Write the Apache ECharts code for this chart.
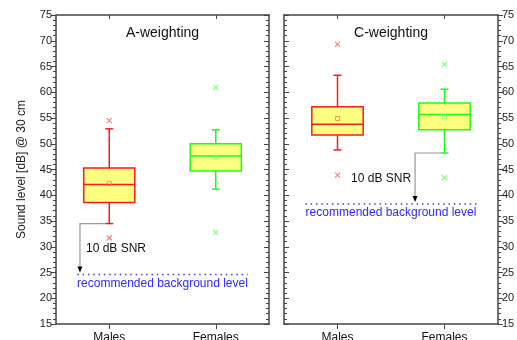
<!DOCTYPE html>
<html>
<head>
<meta charset="utf-8">
<script src="https://cdn.jsdelivr.net/npm/echarts@6/dist/echarts.min.js"></script>
<style>
html, body { margin: 0; padding: 0; background: #fff; }
#chart { width: 517px; height: 340px; }
</style>
</head>
<body>
<div id="chart"></div>
<script>
const groups = ['Males', 'Females'];
const panelTitles = ['A-weighting', 'C-weighting'];
// [min, Q1, median, Q3, max] per group
const boxA = [[34.5, 38.6, 42.1, 45.3, 52.9], [41.2, 44.7, 47.6, 50.0, 52.7]];
const boxC = [[48.8, 51.7, 53.8, 57.2, 63.3], [48.2, 52.7, 55.7, 57.9, 60.6]];
const meanA = [42.3, 47.4];
const meanC = [54.9, 55.2];
const outliersA = [[54.5, 31.7], [60.9, 32.8]];
const outliersC = [[69.3, 43.9], [65.4, 43.4]];
// SNR bracket: start group, start level (whisker min), background level
const snrA = [0, 34.5, 24.6];
const snrC = [1, 48.2, 38.3];
const yMin = 15, yMax = 75, yStep = 5;

const strokes = ['#ff1a1a', '#1aff1a'];
const outlierColors = ['#ff6060', '#60ff60'];
const meanColors = ['#ff8040', '#80ff80'];
const font = 'Liberation Sans, Arial, sans-serif';

let chart = echarts.init(document.getElementById('chart'));

function renderBox(params, api) {
  let i = api.value(0);
  let x = api.coord([i, api.value(3)])[0];
  let band = api.size([1, 0])[0];
  let hw = band * 0.24, cap = 4;
  let y = v => api.coord([i, v])[1];
  let col = strokes[i];
  let ln = (x1, y1, x2, y2) => ({
    type: 'line', shape: { x1, y1, x2, y2 },
    style: { stroke: col, lineWidth: 1.5 }
  });
  return {
    type: 'group',
    children: [
      ln(x, y(api.value(4)), x, y(api.value(5))),
      ln(x, y(api.value(2)), x, y(api.value(1))),
      ln(x - cap, y(api.value(5)), x + cap, y(api.value(5))),
      ln(x - cap, y(api.value(1)), x + cap, y(api.value(1))),
      {
        type: 'rect',
        shape: { x: x - hw, y: y(api.value(4)), width: hw * 2, height: y(api.value(2)) - y(api.value(4)) },
        style: { fill: '#ffff80', stroke: col, lineWidth: 1.5 }
      },
      ln(x - hw, y(api.value(3)), x + hw, y(api.value(3)))
    ]
  };
}

function makeAnnotation(textAlign) {
  return function (params, api) {
    let g = api.value(0);
    let band = api.size([1, 0])[0];
    let cx = api.coord([g, api.value(1)])[0];
    let yStart = api.coord([g, api.value(1)])[1];
    let yBg = api.coord([g, api.value(2)])[1];
    let yMid = api.coord([g, (api.value(1) + api.value(2)) / 2])[1];
    let vx = cx - band * 0.275;
    let tip = yBg - 2;
    let x0 = api.coord([0, yMin])[0] - band * 0.3;
    let x1 = api.coord([1, yMin])[0] + band * 0.3;
    return {
      type: 'group',
      children: [
        { type: 'polyline', shape: { points: [[cx - 4, yStart], [vx, yStart], [vx, tip - 5]] },
          style: { stroke: '#999', lineWidth: 1.2, fill: null } },
        { type: 'polygon', shape: { points: [[vx - 2.5, tip - 6], [vx + 2.5, tip - 6], [vx, tip]] },
          style: { fill: '#000' } },
        { type: 'text', x: textAlign === 'left' ? vx + 6 : vx - 4, y: yMid,
          style: { text: '10 dB SNR', font: '12px ' + font, fill: '#111', align: textAlign, verticalAlign: 'middle' } },
        { type: 'line', shape: { x1: x0, y1: yBg, x2: x1, y2: yBg },
          style: { stroke: '#3a3aff', lineWidth: 1.5, lineDash: [1.5, 3.8] } },
        { type: 'text', x: (x0 + x1) / 2, y: yBg + 9,
          style: { text: 'recommended background level', font: '12px ' + font, fill: '#2a2aff', align: 'center', verticalAlign: 'middle' } }
      ]
    };
  };
}

const axisLine = { show: true, lineStyle: { color: '#444', width: 1.5 } };

function xAxes(gridIndex) {
  return [
    {
      type: 'category', gridIndex, data: groups, position: 'bottom',
      axisLine, axisTick: { show: true, alignWithLabel: true, length: 5, lineStyle: { color: '#444' } },
      axisLabel: { color: '#111', fontSize: 12, fontFamily: font, margin: 8 },
      splitLine: { show: false }
    },
    {
      type: 'category', gridIndex, data: groups, position: 'top',
      axisLine, axisTick: { show: true, inside: true, alignWithLabel: true, length: 4, lineStyle: { color: '#444' } },
      axisLabel: { show: false }, splitLine: { show: false }
    }
  ];
}

function yAxis(gridIndex, position, labels, inside) {
  let a = {
    type: 'value', gridIndex, position, min: yMin, max: yMax, interval: yStep,
    axisLine,
    axisTick: { show: true, inside, length: 5, lineStyle: { color: '#444' } },
    minorTick: { show: true, splitNumber: 5, length: 3, lineStyle: { color: '#444' } },
    axisLabel: { show: labels, color: '#222', fontSize: 11, fontFamily: font, margin: 4 },
    splitLine: { show: false }, minorSplitLine: { show: false }
  };
  if (gridIndex === 0 && position === 'left') {
    a.name = 'Sound level [dB] @ 30 cm';
    a.nameLocation = 'middle';
    a.nameGap = 28;
    a.nameTextStyle = { color: '#222', fontSize: 12, fontFamily: font };
  }
  return a;
}

function panelSeries(xi, yi, box, mean, outliers, snr, align) {
  let boxData = box.map((b, i) => [i].concat(b));
  let outData = [];
  outliers.forEach((vals, i) => vals.forEach(v => outData.push([i, v])));
  return [
    { type: 'custom', xAxisIndex: xi, yAxisIndex: yi, renderItem: renderBox, data: boxData, z: 2 },
    {
      type: 'scatter', xAxisIndex: xi, yAxisIndex: yi, symbol: 'path://M0,0L10,10M10,0L0,10', symbolSize: 5,
      data: outData.map(d => ({ value: d, itemStyle: { color: 'transparent', borderColor: outlierColors[d[0]], borderWidth: 1.2 } })),
      z: 3
    },
    {
      type: 'scatter', xAxisIndex: xi, yAxisIndex: yi, symbol: 'rect', symbolSize: 4,
      data: mean.map((v, i) => ({ value: [i, v], itemStyle: { color: 'transparent', borderColor: meanColors[i], borderWidth: 1 } })),
      z: 3
    },
    { type: 'custom', xAxisIndex: xi, yAxisIndex: yi, renderItem: makeAnnotation(align), data: [snr], z: 1 }
  ];
}

chart.setOption({
  animation: false,
  backgroundColor: '#fff',
  grid: [
    { left: 56, right: 248, top: 15, bottom: 16, outerBoundsMode: 'none' },
    { left: 284, right: 19, top: 15, bottom: 16, outerBoundsMode: 'none' }
  ],
  xAxis: xAxes(0).concat(xAxes(1)),
  yAxis: [
    yAxis(0, 'left', true, false),
    yAxis(0, 'right', false, true),
    yAxis(1, 'left', false, true),
    yAxis(1, 'right', true, false)
  ],
  graphic: [
    { type: 'text', x: 162.5, y: 33, style: { text: panelTitles[0], font: '14px ' + font, fill: '#111', align: 'center', verticalAlign: 'middle' } },
    { type: 'text', x: 391, y: 33, style: { text: panelTitles[1], font: '14px ' + font, fill: '#111', align: 'center', verticalAlign: 'middle' } }
  ],
  series: panelSeries(0, 0, boxA, meanA, outliersA, snrA, 'left')
    .concat(panelSeries(2, 3, boxC, meanC, outliersC, snrC, 'right'))
});

window.addEventListener('resize', function () {
  chart.resize();
});
</script>
</body>
</html>
